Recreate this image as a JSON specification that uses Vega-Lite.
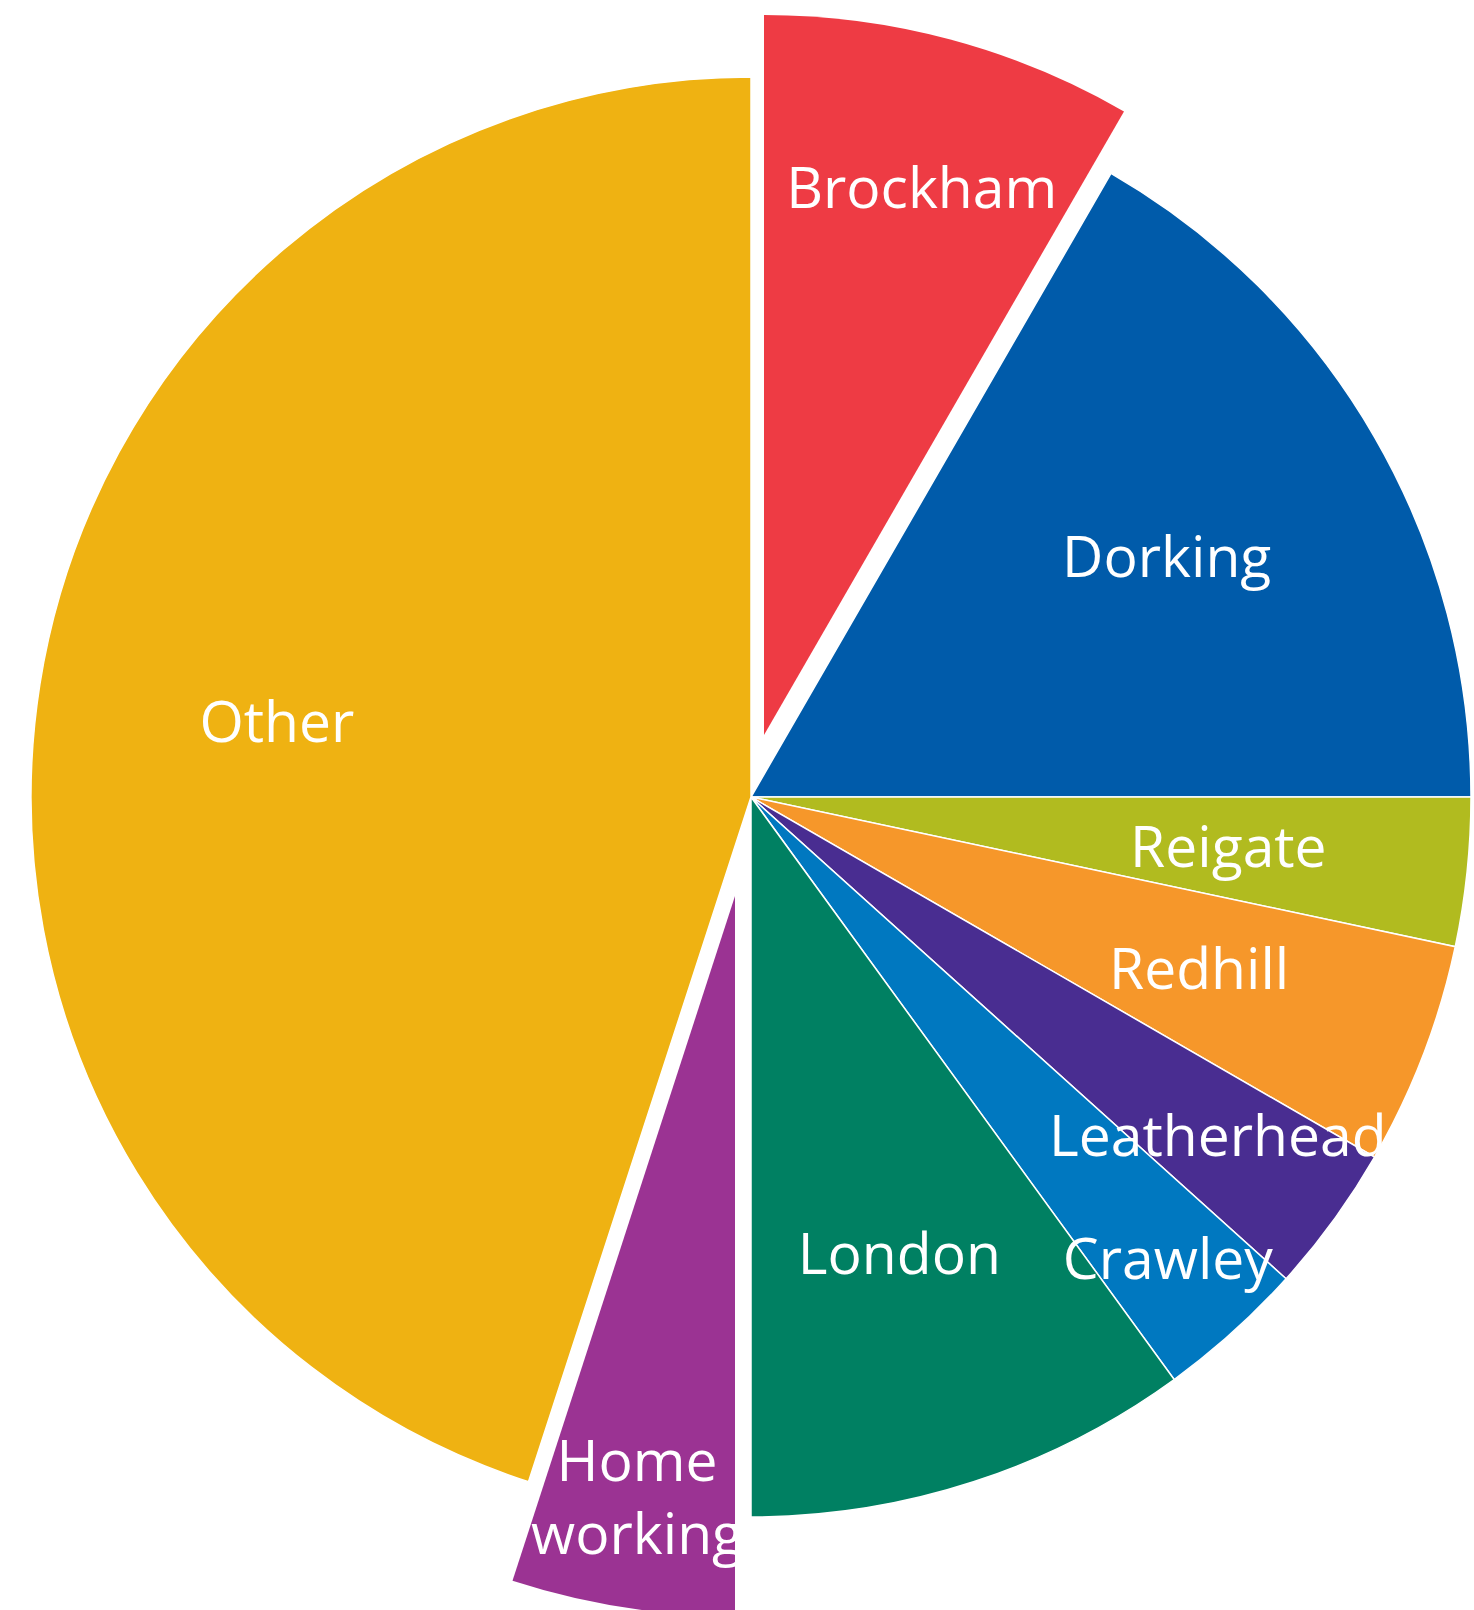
{
  "$schema": "https://vega.github.io/schema/vega-lite/v6.json",
  "width": 1440,
  "height": 1594,
  "autosize": {"type": "none"},
  "padding": {"left": 31, "top": 0, "right": 3, "bottom": 16},
  "background": "white",
  "config": {"view": {"stroke": null}},
  "data": {
    "values": [
      {"order": 1, "name": "Brockham", "value": 30},
      {"order": 2, "name": "Dorking", "value": 60},
      {"order": 3, "name": "Reigate", "value": 12},
      {"order": 4, "name": "Redhill", "value": 18},
      {"order": 5, "name": "Leatherhead", "value": 12},
      {"order": 6, "name": "Crawley", "value": 12},
      {"order": 7, "name": "London", "value": 36},
      {"order": 8, "name": "Home working", "value": 18},
      {"order": 9, "name": "Other", "value": 162}
    ]
  },
  "layer": [
    {
      "transform": [
        {"stack": "value", "groupby": [], "as": ["t0", "t1"], "sort": [{"field": "order", "order": "ascending"}]},
        {"filter": "datum.name !== 'Brockham' && datum.name !== 'Home working'"}
      ],
      "mark": {"type": "arc", "outerRadius": 720, "stroke": "white", "strokeWidth": 1.5},
      "encoding": {
        "theta": {"field": "t0", "type": "quantitative", "stack": null, "scale": {"domain": [0, 360]}},
        "theta2": {"field": "t1"},
        "color": {"field": "name", "type": "nominal", "legend": null,
          "scale": {"domain": ["Brockham", "Dorking", "Reigate", "Redhill", "Leatherhead", "Crawley", "London", "Home working", "Other"],
                    "range": ["#EE3B44", "#005BAA", "#B1BB1F", "#F6972A", "#492D91", "#0078C0", "#008062", "#9B3393", "#EFB212"]}}
      }
    },
    {
      "transform": [
        {"stack": "value", "groupby": [], "as": ["t0", "t1"], "sort": [{"field": "order", "order": "ascending"}]},
        {"filter": "datum.name === 'Brockham'"}
      ],
      "mark": {"type": "arc", "outerRadius": 720, "xOffset": 13, "yOffset": -62},
      "encoding": {
        "theta": {"field": "t0", "type": "quantitative", "stack": null, "scale": {"domain": [0, 360]}},
        "theta2": {"field": "t1"},
        "color": {"field": "name", "type": "nominal", "legend": null}
      }
    },
    {
      "transform": [
        {"stack": "value", "groupby": [], "as": ["t0", "t1"], "sort": [{"field": "order", "order": "ascending"}]},
        {"filter": "datum.name === 'Home working'"}
      ],
      "mark": {"type": "arc", "outerRadius": 720, "xOffset": -16, "yOffset": 99},
      "encoding": {
        "theta": {"field": "t0", "type": "quantitative", "stack": null, "scale": {"domain": [0, 360]}},
        "theta2": {"field": "t1"},
        "color": {"field": "name", "type": "nominal", "legend": null}
      }
    },
    {
      "mark": {"type": "text", "radius": 480, "dy": 3, "font": "Open Sans", "fontSize": 57, "fill": "white", "align": "center", "baseline": "middle"},
      "encoding": {
        "theta": {"field": "value", "type": "quantitative", "stack": true, "scale": {"domain": [0, 360]}},
        "order": {"field": "order", "type": "quantitative"},
        "text": {"condition": {"test": "indexof(['Dorking','Reigate','Redhill','London','Other'], datum.name) >= 0", "field": "name"}, "value": ""}
      }
    },
    {
      "mark": {"type": "text", "radius": 577, "dy": 3, "font": "Open Sans", "fontSize": 57, "fill": "white", "align": "center", "baseline": "middle"},
      "encoding": {
        "theta": {"field": "value", "type": "quantitative", "stack": true, "scale": {"domain": [0, 360]}},
        "order": {"field": "order", "type": "quantitative"},
        "text": {"condition": {"test": "datum.name === 'Leatherhead'", "field": "name"}, "value": ""}
      }
    },
    {
      "mark": {"type": "text", "radius": 623, "dy": 2, "font": "Open Sans", "fontSize": 57, "fill": "white", "align": "center", "baseline": "middle"},
      "encoding": {
        "theta": {"field": "value", "type": "quantitative", "stack": true, "scale": {"domain": [0, 360]}},
        "order": {"field": "order", "type": "quantitative"},
        "text": {"condition": {"test": "datum.name === 'Crawley'", "field": "name"}, "value": ""}
      }
    },
    {
      "mark": {"type": "text", "radius": 563, "xOffset": 25, "yOffset": -62, "font": "Open Sans", "fontSize": 57, "fill": "white", "align": "center", "baseline": "middle"},
      "encoding": {
        "theta": {"field": "value", "type": "quantitative", "stack": true, "scale": {"domain": [0, 360]}},
        "order": {"field": "order", "type": "quantitative"},
        "text": {"condition": {"test": "datum.name === 'Brockham'", "field": "name"}, "value": ""}
      }
    },
    {
      "mark": {"type": "text", "radius": 575, "xOffset": -16, "yOffset": 99, "dx": -8, "lineBreak": " ", "lineHeight": 73, "font": "Open Sans", "fontSize": 57, "fill": "white", "align": "center", "baseline": "middle"},
      "encoding": {
        "theta": {"field": "value", "type": "quantitative", "stack": true, "scale": {"domain": [0, 360]}},
        "order": {"field": "order", "type": "quantitative"},
        "text": {"condition": {"test": "datum.name === 'Home working'", "field": "name"}, "value": ""}
      }
    }
  ]
}
